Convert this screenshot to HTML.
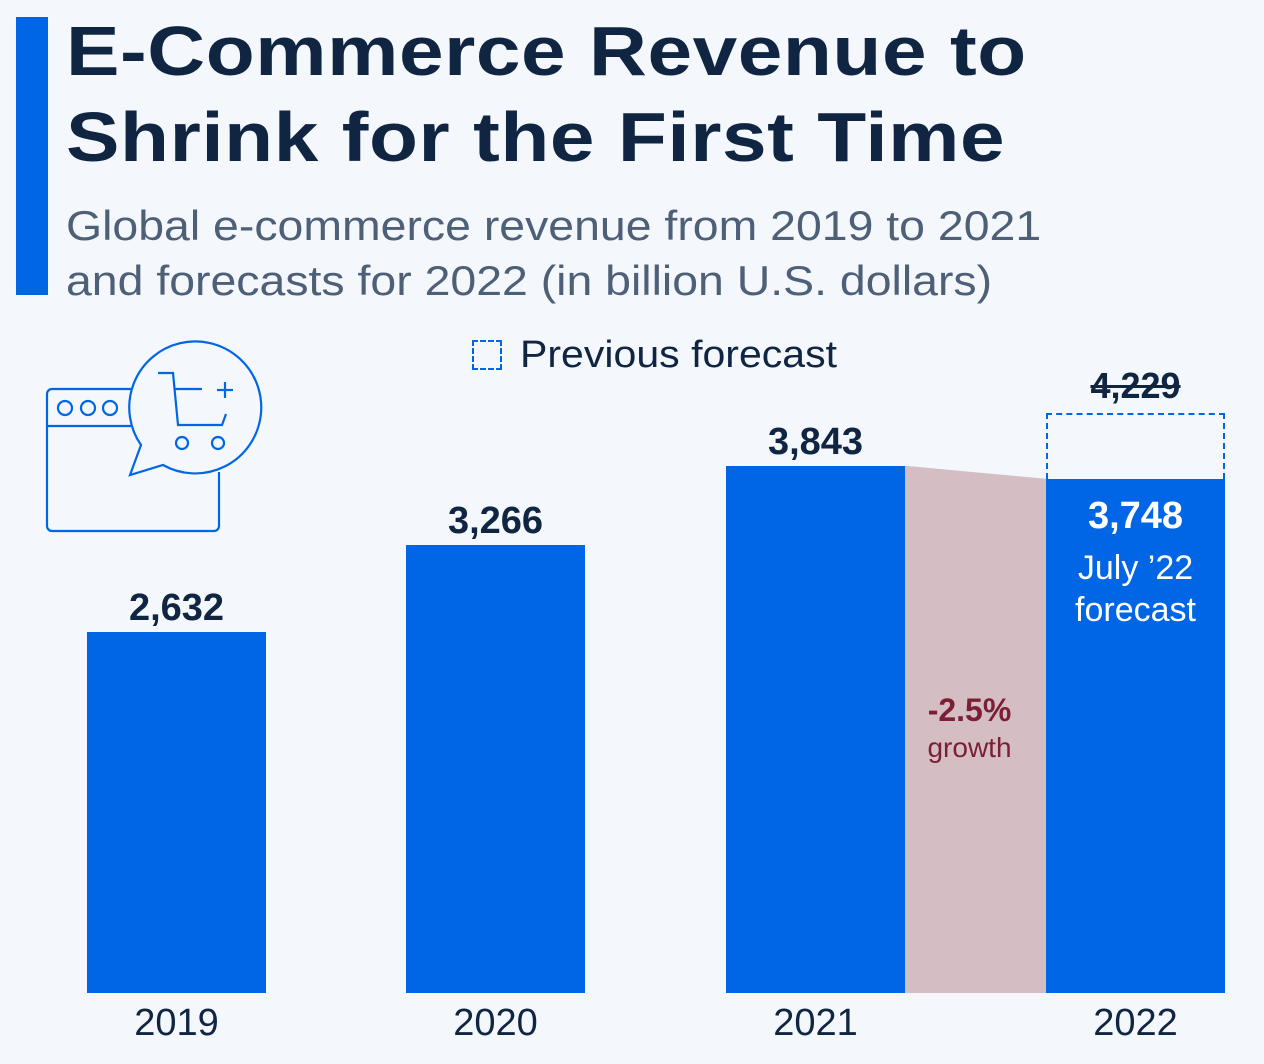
<!DOCTYPE html>
<html><head><meta charset="utf-8"><style>
body{margin:0;width:1264px;height:1064px;background:#f4f7fb;font-family:"Liberation Sans","DejaVu Sans",sans-serif;overflow:hidden;position:relative}
.bar{position:absolute}
.t{position:absolute;white-space:nowrap}
</style></head><body>
<div style="position:absolute;left:16px;top:17px;width:32px;height:278px;background:#0066e6"></div>
<div class="t" style="left:66px;top:8px;font-size:70px;font-weight:bold;line-height:86px;color:#0f2542;letter-spacing:0.5px;transform:scaleX(1.145);transform-origin:0 0">E-Commerce Revenue to<br>Shrink for the First Time</div>
<div class="t" style="left:66px;top:198px;font-size:42px;line-height:55px;color:#4d6078;transform:scaleX(1.105);transform-origin:0 0">Global e-commerce revenue from 2019 to 2021<br>and forecasts for 2022 (in billion U.S. dollars)</div>
<div style="position:absolute;left:472px;top:340px;">
 <div style="position:absolute;left:0;top:0;width:30px;height:30px;border:2px dashed #0066e6;box-sizing:border-box"></div>
 <div class="t" style="left:48px;top:-6px;font-size:38px;color:#0f2542;transform:scaleX(1.08);transform-origin:0 0">Previous forecast</div>
</div>
<svg width="1264" height="1064" style="position:absolute;left:0;top:0" fill="none" stroke="#0066e6" stroke-width="2.2">
 <path d="M135 389 H52 a5 5 0 0 0 -5 5 V526 a5 5 0 0 0 5 5 H214 a5 5 0 0 0 5 -5 V472"/>
 <line x1="47" y1="426" x2="131" y2="426"/>
 <circle cx="65" cy="408" r="7"/><circle cx="88" cy="408" r="7"/><circle cx="110" cy="408" r="7"/>
 <path d="M141 445 L130 475 L163 465 A66 66 0 1 0 141 445 Z" fill="#f4f7fb"/>
 <path d="M158 373 H173 L178 425 H222 L226 414"/>
 <line x1="175" y1="389" x2="202" y2="389"/>
 <line x1="217" y1="390" x2="233" y2="390"/><line x1="225" y1="382" x2="225" y2="398"/>
 <circle cx="182" cy="443" r="6"/><circle cx="218" cy="443" r="6"/>
</svg>
<div id="chart"></div>
<script>
const categories=["2019","2020","2021","2022"];
const values=[2632,3266,3843,3748];
const labels=["2,632","3,266","3,843","3,748"];
const prevForecast=[4229];
const prevLabels=["4,229"];
const growthLabel=["-2.5%"];
const base=993, k=0.1372, lefts=[87,406,726,1046], w=179;
const y=v=>base-v*k;
const c=document.getElementById('chart');
function add(html){const d=document.createElement('div');d.innerHTML=html;const e=d.firstChild;c.appendChild(e);return e;}
const g=document.createElementNS('http://www.w3.org/2000/svg','svg');
g.setAttribute('width','1264');g.setAttribute('height','1064');
g.setAttribute('style','position:absolute;left:0;top:0');


g.innerHTML=`<polygon points="${lefts[2]+w},${y(values[2])} ${lefts[3]},${y(values[3])} ${lefts[3]},${base} ${lefts[2]+w},${base}" fill="#d5bec3"/>`;
c.appendChild(g);
categories.forEach((cat,i)=>{
 const b=add(`<div class="bar" style="left:${lefts[i]}px;top:${y(values[i])}px;width:${w}px;height:${values[i]*k}px;background:#0066e6"></div>`);
 
 
 const xl=add(`<div class="t" style="left:${lefts[i]}px;width:${w}px;text-align:center;top:1002px;font-size:38px;color:#0f2542">${cat}</div>`);
 
 
 const inside=i===3;
 const vl=add(`<div class="t" style="left:${lefts[i]}px;width:${w}px;text-align:center;top:${inside?y(values[i])+16:y(values[i])-45}px;font-size:38px;font-weight:bold;color:${inside?'#fff':'#0f2542'}">${labels[i]}</div>`);
 
 
});
const pf=add(`<div style="position:absolute;left:${lefts[3]}px;top:${y(prevForecast[0])}px;width:${w}px;height:${(prevForecast[0]-values[3])*k}px;border:2px dashed #0066e6;border-bottom:none;box-sizing:border-box"></div>`);


const pl=add(`<div class="t" style="left:${lefts[3]}px;width:${w}px;text-align:center;top:${y(prevForecast[0])-48}px;font-size:36px;font-weight:bold;color:#0f2542;text-decoration:line-through">${prevLabels[0]}</div>`);


const fn=add(`<div class="t" style="left:${lefts[3]}px;width:${w}px;text-align:center;top:${y(values[3])+68}px;font-size:34px;line-height:42px;color:#fff">July ’22<br>forecast</div>`);


const gl=add(`<div class="t" style="left:${lefts[2]+w-6}px;width:${lefts[3]-lefts[2]-w}px;text-align:center;top:692px;font-size:32px;line-height:36px;color:#7a1f35"><b>${growthLabel[0]}</b><br><span style="font-size:28px">growth</span></div>`);


</script>
</body></html>
